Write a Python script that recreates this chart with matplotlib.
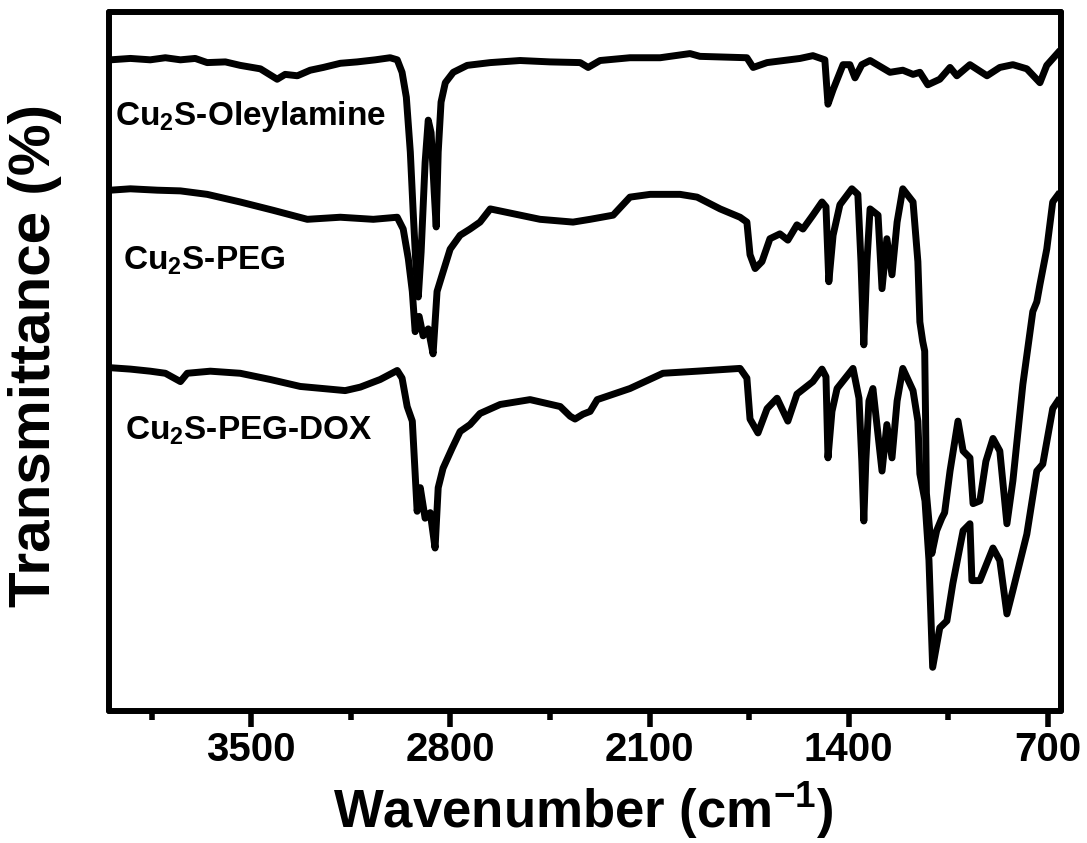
import matplotlib
matplotlib.use('Agg')
import matplotlib.pyplot as plt
from matplotlib.ticker import FixedLocator

# FTIR spectra, wavenumber (cm-1) vs transmittance (offset, arbitrary %)
ole_wn = [3995, 3925, 3855, 3802, 3749, 3697, 3655, 3591, 3539, 3468, 3409, 3381, 3338, 3293, 3247,
          3187, 3128, 3064, 3012, 2987, 2970, 2955, 2941, 2931, 2920, 2913, 2903, 2889, 2878, 2868,
          2857, 2850, 2843, 2833, 2818, 2790, 2741, 2660, 2555, 2450, 2344, 2316, 2274, 2169, 2063,
          1958, 1923, 1758, 1736, 1687, 1571, 1526, 1484, 1473, 1455, 1420, 1396, 1378, 1354, 1325,
          1255, 1210, 1174, 1150, 1122, 1080, 1044, 1020, 974, 914, 869, 823, 774, 728, 704, 665]
ole_t = [93.5, 93.7, 93.5, 93.8, 93.5, 93.7, 93.1, 93.2, 92.7, 92.2, 90.7, 91.4, 91.2, 92.0, 92.4,
         93.0, 93.2, 93.5, 93.8, 93.5, 91.7, 88.1, 80.2, 71.6, 62.9, 59.3, 65.8, 78.7, 84.8, 83.0,
         74.4, 69.4, 80.2, 87.4, 90.2, 91.7, 92.7, 93.1, 93.4, 93.2, 93.1, 92.4, 93.4, 93.8, 93.8,
         94.4, 94.0, 93.8, 92.4, 93.1, 93.7, 94.1, 93.5, 87.1, 89.2, 92.8, 92.8, 90.9, 92.8, 93.4,
         91.7, 92.0, 91.4, 91.7, 89.9, 90.7, 92.4, 91.2, 92.8, 91.2, 92.4, 92.8, 92.2, 90.2, 92.7, 94.5]

peg_wn = [3995, 3925, 3830, 3749, 3655, 3539, 3423, 3303, 3187, 3071, 2987, 2966, 2948, 2934, 2924,
          2910, 2896, 2878, 2861, 2847, 2829, 2801, 2766, 2731, 2696, 2660, 2485, 2369, 2309, 2228,
          2169, 2098, 1993, 1933, 1852, 1782, 1758, 1747, 1729, 1705, 1677, 1642, 1614, 1582, 1561,
          1526, 1494, 1480, 1470, 1455, 1431, 1389, 1368, 1357, 1347, 1336, 1325, 1297, 1283, 1266,
          1248, 1230, 1210, 1174, 1157, 1150, 1140, 1133, 1130, 1127, 1108, 1091, 1073, 1063, 1044,
          1016, 998, 974, 963, 939, 918, 893, 869, 844, 823, 788, 753, 739, 728, 704, 683, 665]
peg_t = [74.7, 74.9, 74.7, 74.6, 74.1, 73.0, 71.8, 70.5, 70.8, 70.5, 70.8, 69.1, 64.8, 60.1, 54.3,
         56.5, 53.7, 54.7, 51.1, 60.1, 62.5, 66.2, 68.2, 69.1, 70.1, 72.0, 70.5, 70.1, 70.5, 71.1,
         73.7, 74.1, 74.1, 73.7, 72.0, 70.8, 70.1, 65.4, 63.4, 64.4, 67.7, 68.4, 67.5, 69.7, 69.1,
         71.1, 73.0, 72.3, 61.5, 68.2, 72.6, 74.9, 74.1, 64.4, 52.4, 64.4, 72.0, 71.1, 60.5, 67.7,
         62.5, 70.1, 74.9, 73.0, 64.4, 55.7, 52.9, 51.5, 42.0, 31.0, 22.3, 25.6, 27.4, 28.2, 34.2,
         41.4, 37.1, 36.1, 29.5, 29.9, 35.6, 38.9, 37.1, 26.6, 32.8, 46.7, 57.2, 58.6, 61.1, 66.2, 73.0, 74.0]

dox_wn = [3995, 3925, 3855, 3802, 3749, 3725, 3644, 3539, 3433, 3328, 3222, 3170, 3117, 3047, 2987,
          2970, 2952, 2934, 2924, 2917, 2906, 2889, 2871, 2854, 2843, 2826, 2794, 2766, 2731, 2696,
          2625, 2520, 2414, 2379, 2362, 2334, 2309, 2284, 2169, 2053, 1933, 1782, 1758, 1747, 1719,
          1687, 1652, 1614, 1582, 1526, 1494, 1480, 1473, 1459, 1441, 1385, 1364, 1354, 1347, 1340,
          1329, 1315, 1283, 1266, 1248, 1230, 1210, 1174, 1157, 1150, 1132, 1118, 1105, 1080, 1055,
          1034, 998, 974, 967, 939, 893, 869, 844, 823, 774, 739, 718, 683, 665]
dox_t = [49.1, 48.9, 48.6, 48.3, 47.1, 48.3, 48.6, 48.3, 47.4, 46.4, 46.0, 45.8, 46.3, 47.4, 48.7,
         47.6, 43.5, 41.4, 33.8, 28.4, 31.8, 27.4, 28.2, 23.1, 31.8, 34.6, 37.5, 39.9, 40.9, 42.5,
         43.8, 44.5, 43.5, 42.1, 41.7, 42.4, 42.8, 44.5, 46.1, 48.3, 48.6, 49.0, 47.6, 41.7, 39.7,
         43.2, 44.7, 41.4, 45.3, 47.1, 48.9, 47.8, 36.1, 42.8, 46.1, 49.0, 44.7, 35.6, 27.0, 35.6,
         44.3, 46.1, 34.2, 40.9, 36.1, 44.3, 49.0, 45.8, 41.4, 33.8, 29.9, 21.3, 5.9, 11.6, 12.6,
         18.0, 25.6, 26.6, 18.4, 18.4, 23.1, 21.3, 13.6, 17.0, 25.1, 34.2, 35.2, 43.2, 44.3]

labels = ['Cu$_2$S-Oleylamine', 'Cu$_2$S-PEG', 'Cu$_2$S-PEG-DOX']
label_pos = [(3978, 84.1), (3950, 63.2), (3943, 38.8)]

major_ticks = [3500, 2800, 2100, 1400, 700]
minor_ticks = [3850, 3150, 2450, 1750, 1050]

plt.rcParams['font.family'] = ['Liberation Sans', 'DejaVu Sans']
plt.rcParams['font.weight'] = 'bold'
plt.rcParams['mathtext.fontset'] = 'custom'
plt.rcParams['mathtext.rm'] = 'Liberation Sans:bold'
plt.rcParams['mathtext.default'] = 'rm'

fig = plt.figure(figsize=(10.87, 8.43), dpi=100)
ax = fig.add_axes([0.1003, 0.1566, 0.8755, 0.8292])

for wn, t in [(ole_wn, ole_t), (peg_wn, peg_t), (dox_wn, dox_t)]:
	ax.plot(wn, t, color='black', lw=5, solid_joinstyle='round')

for lab, (x, y) in zip(labels, label_pos):
	ax.text(x, y, lab, fontsize=24, fontweight='bold', ha='left', va='baseline')

ax.set_xlim(4000, 655)
ax.set_ylim(-0.4, 100.4)
ax.xaxis.set_major_locator(FixedLocator(major_ticks))
ax.xaxis.set_minor_locator(FixedLocator(minor_ticks))
ax.set_yticks([])
ax.tick_params(axis='x', which='major', direction='out', length=11.5, width=4, pad=3, labelsize=29)
ax.tick_params(axis='x', which='minor', direction='out', length=6.5, width=4)
for lab in ax.get_xticklabels():
	lab.set_fontweight('bold')
for s in ax.spines.values():
	s.set_linewidth(4.3)
	s.set_capstyle('round')

fig.text(0.537, 0.0178, 'Wavenumber (cm$^{-1}$)', fontsize=38, fontweight='bold', ha='center', va='baseline')
fig.text(0.032, 0.578, 'Transmittance (%)', fontsize=42, fontweight='bold', rotation=90, ha='center', va='center')

fig.savefig('out.png', dpi=100)
